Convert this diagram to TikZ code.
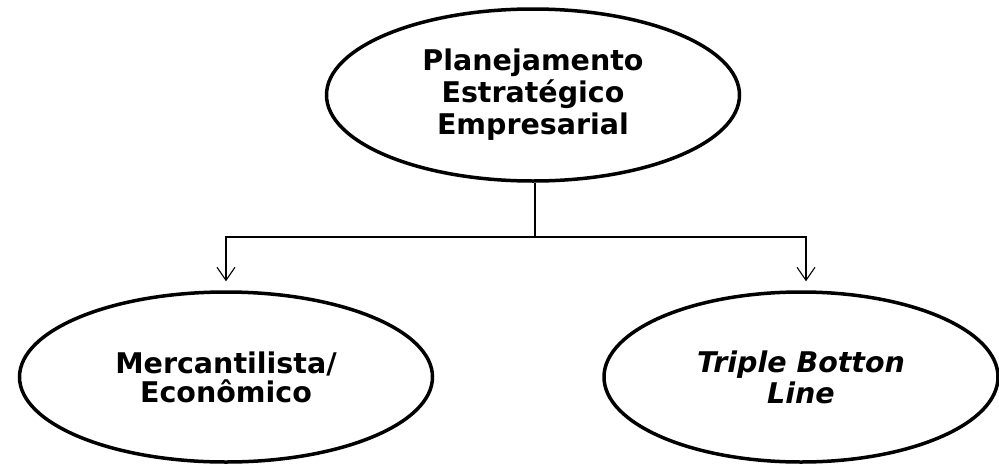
\documentclass[tikz,border=0pt]{standalone}
\usepackage{fontspec}
\setmainfont{DejaVu Sans}
\usetikzlibrary{shapes.geometric,arrows.meta}
\begin{document}
\begin{tikzpicture}[x=1pt,y=-1pt,
  oval/.style={draw=black,line width=3.5pt,ellipse,inner sep=0pt,align=center,
    font=\fontsize{28.5}{32}\selectfont\bfseries},
  conn/.style={draw=black,line width=1.1pt},
  arr/.style={conn,shorten >=9pt,-{Straight Barb[length=13pt,width=18pt,line width=1.1pt]}}]
\useasboundingbox[fill=white] (0,0) rectangle (999,464);
\node[oval,minimum width=413pt,minimum height=172pt] (top) at (533,95)
  {Planejamento\\Estratégico\\Empresarial};
\node[oval,minimum width=413pt,minimum height=170pt,
  font=\fontsize{28.5}{29}\selectfont\bfseries] (left) at (226,377)
  {Mercantilista/\\Econômico};
\node[oval,minimum width=394pt,minimum height=170pt,
  font=\fontsize{28.5}{31}\selectfont\bfseries\itshape] (right) at (801,377)
  {Triple Botton\\Line};
\coordinate (j) at (535,237);
\draw[conn] (top.south -| j) -- (j);
\draw[arr] (j) -| (left.north);
\draw[arr] (j) -| ([xshift=5pt]right.north);
\end{tikzpicture}
\end{document}
